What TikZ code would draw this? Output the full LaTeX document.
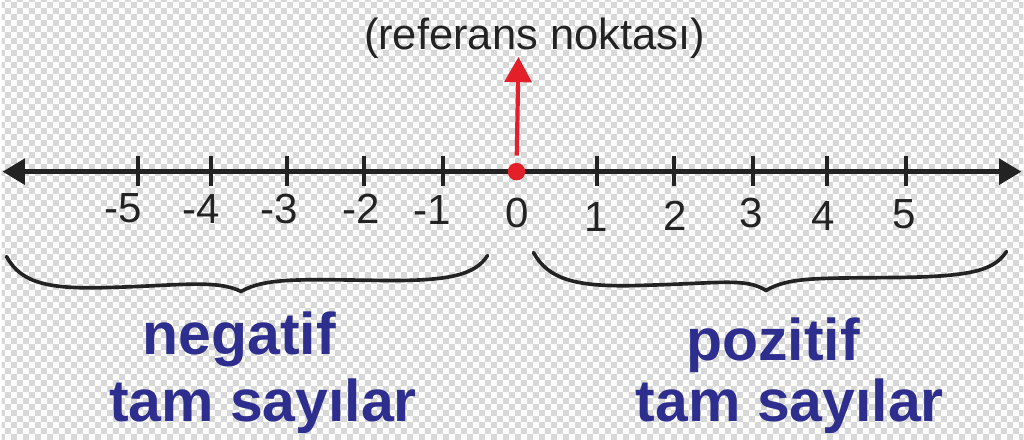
\documentclass[tikz,border=0pt]{standalone}
\usepackage{fontspec}
\setmainfont{Liberation Sans}
\usepackage{tikz}
\usetikzlibrary{arrows.meta,patterns,positioning}
\definecolor{checkgray}{HTML}{D8D8D8}
\definecolor{refred}{HTML}{E3202A}
\definecolor{setblue}{HTML}{2E2E8E}
\definecolor{axisblack}{HTML}{232323}
\pgfdeclarepatternformonly{checker}{\pgfpointorigin}{\pgfqpoint{8.54pt}{8.54pt}}{\pgfqpoint{8.54pt}{8.54pt}}{%
  \pgfpathrectangle{\pgfpointorigin}{\pgfqpoint{4.27pt}{4.27pt}}%
  \pgfpathrectangle{\pgfqpoint{4.27pt}{4.27pt}}{\pgfqpoint{4.27pt}{4.27pt}}%
  \pgfusepath{fill}}
\tikzset{axis style/.style={draw=axisblack,line width=3.6pt,{Triangle[length=16pt,width=18pt]}-{Triangle[length=16pt,width=18pt]}},
  tick/.style={draw=axisblack,line width=3pt},
  digit/.style={inner sep=0pt,text=axisblack,font=\fontsize{30}{30}\selectfont},
  brace line/.style={draw=axisblack,line width=2.6pt,line cap=round},
  set label/.style={inner sep=0pt,text=setblue,font=\fontsize{42}{42}\selectfont\bfseries}}

\begin{document}
\begin{tikzpicture}[x=0.025cm,y=-0.025cm]
	% background
	\fill[white] (0,0) rectangle (1024,440);
	\fill[pattern=checker,pattern color=checkgray] (0,0) rectangle (1024,440);

	\coordinate (left) at (1,172);
	\coordinate (right) at (1022,172);
	\draw[axis style] (left) -- (right);

	\draw[tick] (137,156) -- (137,186);
	\draw[tick] (210,156) -- (210,186);
	\draw[tick] (286,156) -- (286,186);
	\draw[tick] (363,156) -- (363,186);
	\draw[tick] (442,156) -- (442,186);
	\draw[tick] (597,156) -- (597,186);
	\draw[tick] (674,156) -- (674,186);
	\draw[tick] (753,156) -- (753,186);
	\draw[tick] (827,156) -- (827,186);
	\draw[tick] (906,156) -- (906,186);

	\node [digit] (nm5) at (122,209) {-5};
	\node [digit] (nm4) at (200,209) {-4};
	\node [digit] (nm3) at (278,209) {-3};
	\node [digit] (nm2) at (360,209) {-2};
	\node [digit] (nm1) at (432,210) {-1};
	\node [digit] (n0) at (517,213) {0};
	\node [digit] (np1) at (596,217) {1};
	\node [digit] (np2) at (675,216) {2};
	\node [digit] (np3) at (751,213) {3};
	\node [digit] (np4) at (823,216) {4};
	\node [digit] (np5) at (904,215) {5};

	% reference point
	\node [circle,fill=refred,minimum size=12.5pt,inner sep=0pt] (ref) at (516,172) {};
	\node [inner sep=0pt,text=axisblack,font=\fontsize{31}{31}\selectfont] (reftext) at (534,38) {(referans noktası)};
	\coordinate (tip) at (518,57);
	\draw[refred,line width=3pt,shorten <=5pt,-{Triangle[length=18pt,width=19pt]}] (ref) -- (tip);

	% braces
	\draw[brace line] (5,257) .. controls (20,285) and (50,290) .. (110,288)
	   .. controls (180,286) and (215,280) .. (240,292)
	   .. controls (265,278) and (300,280) .. (380,281)
	   .. controls (450,282) and (475,275) .. (487,256);
	\draw[brace line] (533,253) .. controls (548,280) and (575,288) .. (640,286)
	   .. controls (720,284) and (745,278) .. (766,291)
	   .. controls (790,277) and (820,279) .. (900,278)
	   .. controls (975,277) and (995,270) .. (1007,252);

	\node [set label] (neg1) at (238,340) {negatif};
	\node [set label] (neg2) at (262,407) {tam sayılar};
	\node [set label] (pos1) at (773,346) {pozitif};
	\node [set label] (pos2) at (790,407) {tam sayılar};
\end{tikzpicture}
\end{document}
